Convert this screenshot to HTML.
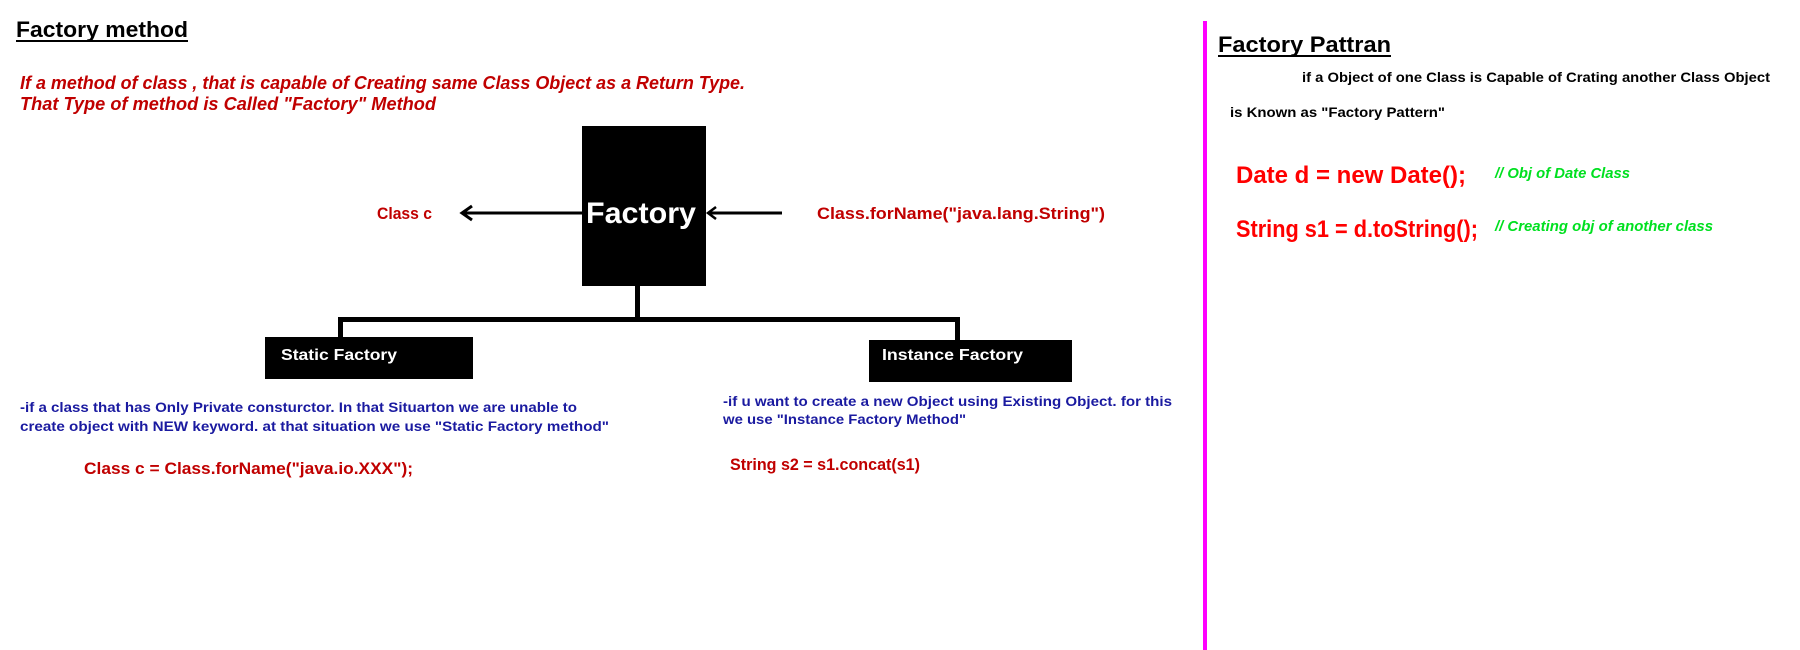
<!DOCTYPE html>
<html><head><meta charset="utf-8"><style>
html,body{margin:0;padding:0;background:#fff;width:1800px;height:650px;overflow:hidden}
text{font-family:"Liberation Sans",sans-serif;font-weight:bold}
</style></head><body>
<svg width="1800" height="650" viewBox="0 0 1800 650" xmlns="http://www.w3.org/2000/svg">
<rect width="1800" height="650" fill="#fff"/>
<!-- Left title -->
<text x="16" y="37" font-size="22" fill="#000" textLength="172" lengthAdjust="spacingAndGlyphs">Factory method</text>
<rect x="16" y="40" width="172" height="2" fill="#000"/>
<text x="20" y="89" font-size="18" font-style="italic" fill="#c00000" textLength="725" lengthAdjust="spacingAndGlyphs">If a method of class , that is capable of Creating same Class Object as a Return Type.</text>
<text x="20" y="110" font-size="18" font-style="italic" fill="#c00000" textLength="416" lengthAdjust="spacingAndGlyphs">That Type of method is Called "Factory" Method</text>

<!-- Factory box -->
<rect x="582" y="126" width="124" height="160" fill="#000"/>
<text x="586" y="223" font-size="30" fill="#fff" textLength="110" lengthAdjust="spacingAndGlyphs">Factory</text>
<!-- left arrow -->
<line x1="582" y1="213" x2="463" y2="213" stroke="#000" stroke-width="3"/>
<polyline points="472,206 462,213 472,220" fill="none" stroke="#000" stroke-width="3"/>
<text x="377" y="219" font-size="17" fill="#c00000" textLength="55" lengthAdjust="spacingAndGlyphs">Class c</text>
<!-- right arrow -->
<line x1="782" y1="213" x2="708" y2="213" stroke="#000" stroke-width="3"/>
<polyline points="716,207 708,213 716,219" fill="none" stroke="#000" stroke-width="2.5"/>
<text x="817" y="219" font-size="17" fill="#c00000" textLength="288" lengthAdjust="spacingAndGlyphs">Class.forName("java.lang.String")</text>

<!-- tree lines -->
<rect x="635" y="286" width="5" height="35" fill="#000"/>
<rect x="338" y="317" width="622" height="5" fill="#000"/>
<rect x="338" y="317" width="5" height="22" fill="#000"/>
<rect x="955" y="317" width="5" height="25" fill="#000"/>

<!-- Static Factory -->
<rect x="265" y="337" width="208" height="42" fill="#000"/>
<text x="281" y="360" font-size="16" fill="#fff" textLength="116" lengthAdjust="spacingAndGlyphs">Static Factory</text>
<!-- Instance Factory -->
<rect x="869" y="340" width="203" height="42" fill="#000"/>
<text x="882" y="360" font-size="16" fill="#fff" textLength="141" lengthAdjust="spacingAndGlyphs">Instance Factory</text>

<text x="20" y="412" font-size="14" fill="#1a1aa0" textLength="557" lengthAdjust="spacingAndGlyphs">-if a class that has Only Private consturctor. In that Situarton we are unable to</text>
<text x="20" y="431" font-size="14" fill="#1a1aa0" textLength="589" lengthAdjust="spacingAndGlyphs">create object with NEW keyword. at that situation we use "Static Factory method"</text>
<text x="84" y="474" font-size="17" fill="#c00000" textLength="329" lengthAdjust="spacingAndGlyphs">Class c = Class.forName("java.io.XXX");</text>

<text x="723" y="406" font-size="14" fill="#1a1aa0" textLength="449" lengthAdjust="spacingAndGlyphs">-if u want to create a new Object using Existing Object. for this</text>
<text x="723" y="424" font-size="14" fill="#1a1aa0" textLength="243" lengthAdjust="spacingAndGlyphs">we use "Instance Factory Method"</text>
<text x="730" y="470" font-size="17" fill="#c00000" textLength="190" lengthAdjust="spacingAndGlyphs">String s2 = s1.concat(s1)</text>

<!-- divider -->
<rect x="1203" y="21" width="4" height="629" fill="#ff00ff"/>

<!-- Right -->
<text x="1218" y="52" font-size="22" fill="#000" textLength="173" lengthAdjust="spacingAndGlyphs">Factory Pattran</text>
<rect x="1218" y="55" width="173" height="2" fill="#000"/>
<text x="1302" y="82" font-size="14" fill="#000" textLength="468" lengthAdjust="spacingAndGlyphs">if a Object of one Class is Capable of Crating another Class Object</text>
<text x="1230" y="117" font-size="14" fill="#000" textLength="215" lengthAdjust="spacingAndGlyphs">is Known as "Factory Pattern"</text>
<text x="1236" y="183" font-size="24" fill="#ff0000" textLength="230" lengthAdjust="spacingAndGlyphs">Date d = new Date();</text>
<text x="1495" y="178" font-size="15" font-style="italic" fill="#00e020" textLength="135" lengthAdjust="spacingAndGlyphs">// Obj of Date Class</text>
<text x="1236" y="237" font-size="24" fill="#ff0000" textLength="242" lengthAdjust="spacingAndGlyphs">String s1 = d.toString();</text>
<text x="1495" y="231" font-size="15" font-style="italic" fill="#00e020" textLength="218" lengthAdjust="spacingAndGlyphs">// Creating obj of another class</text>
</svg>
</body></html>
